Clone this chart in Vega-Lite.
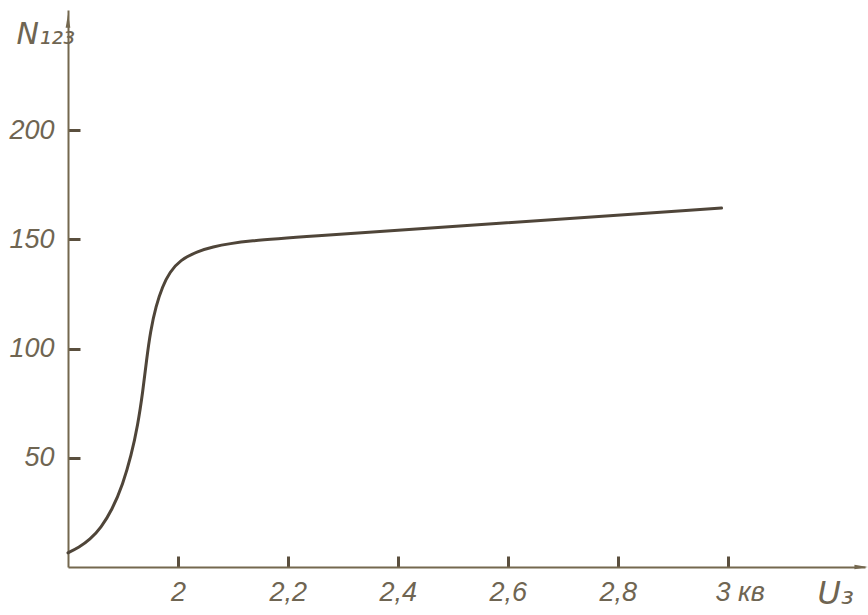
{
  "$schema": "https://vega.github.io/schema/vega-lite/v6.json",
  "width": 797,
  "height": 557,
  "autosize": {"type": "none"},
  "padding": {"left": 68, "top": 10, "right": 3, "bottom": 48},
  "background": "#ffffff",
  "config": {
    "view": {"stroke": null},
    "axis": {
      "grid": false,
      "domainColor": "#74684f",
      "domainWidth": 2,
      "tickColor": "#5a4f3e",
      "tickWidth": 3,
      "labelColor": "#6f6552",
      "labelFont": "Liberation Sans",
      "labelFontStyle": "italic",
      "labelFontSize": 27,
      "titleColor": "#6f6552",
      "titleFont": "DejaVu Sans",
      "titleFontStyle": "italic",
      "titleFontWeight": "normal"
    }
  },
  "layer": [
    {
      "data": {
        "values": [
          {"u": 1.8, "n": 6.5},
          {"u": 1.82, "n": 9},
          {"u": 1.84, "n": 12.5},
          {"u": 1.86, "n": 18},
          {"u": 1.88, "n": 26},
          {"u": 1.9, "n": 38},
          {"u": 1.915, "n": 51},
          {"u": 1.927, "n": 65},
          {"u": 1.936, "n": 80},
          {"u": 1.943, "n": 95},
          {"u": 1.95, "n": 108},
          {"u": 1.96, "n": 119.5},
          {"u": 1.972, "n": 128.5},
          {"u": 1.985, "n": 135},
          {"u": 2.004, "n": 140.5},
          {"u": 2.035, "n": 144.5},
          {"u": 2.064, "n": 146.6},
          {"u": 2.095, "n": 148.1},
          {"u": 2.131, "n": 149.3},
          {"u": 2.2, "n": 150.8},
          {"u": 2.6, "n": 157.6},
          {"u": 2.989, "n": 164.3}
        ]
      },
      "mark": {"type": "line", "interpolate": "basis", "color": "#4f4539", "strokeWidth": 3, "strokeCap": "round"},
      "encoding": {
        "x": {
          "field": "u", "type": "quantitative",
          "scale": {"domain": [1.8, 3.25], "nice": false, "zero": false},
          "axis": {
            "values": [2, 2.2, 2.4, 2.6, 2.8, 3],
            "tickSize": -11,
            "labelPadding": 23,
            "labelOffset": {"condition": {"test": "datum.value == 3", "value": 12}, "value": 0},
            "labelExpr": "datum.value == 3 ? '3 кв' : (datum.value == 2 ? '2' : replace(format(datum.value, '.1f'), '.', ','))",
            "title": "U₃",
            "titleFontSize": 32,
            "titleAlign": "left",
            "titleBaseline": "alphabetic",
            "titleX": 749,
            "titleY": 36
          }
        },
        "y": {
          "field": "n", "type": "quantitative",
          "scale": {"domain": [0, 255], "nice": false},
          "axis": {
            "values": [50, 100, 150, 200],
            "tickSize": -12,
            "labelPadding": 26,
            "title": "N₁₂₃",
            "titleFontSize": 30,
            "titleAngle": 0,
            "titleAlign": "left",
            "titleBaseline": "alphabetic",
            "titleX": -52,
            "titleY": 33
          }
        }
      }
    },
    {
      "data": {"values": [{"u": 1.8, "n": 250}]},
      "mark": {"type": "point", "shape": "M0,-1L0.35,1L-0.35,1Z", "filled": true, "color": "#74684f", "size": 180, "opacity": 1, "clip": false},
      "encoding": {"x": {"field": "u", "type": "quantitative"}, "y": {"field": "n", "type": "quantitative"}}
    },
    {
      "data": {"values": [{"u": 3.243, "n": 0}]},
      "mark": {"type": "point", "shape": "M1,0L-1,0.35L-1,-0.35Z", "filled": true, "color": "#74684f", "size": 180, "opacity": 1, "clip": false},
      "encoding": {"x": {"field": "u", "type": "quantitative"}, "y": {"field": "n", "type": "quantitative"}}
    }
  ]
}
